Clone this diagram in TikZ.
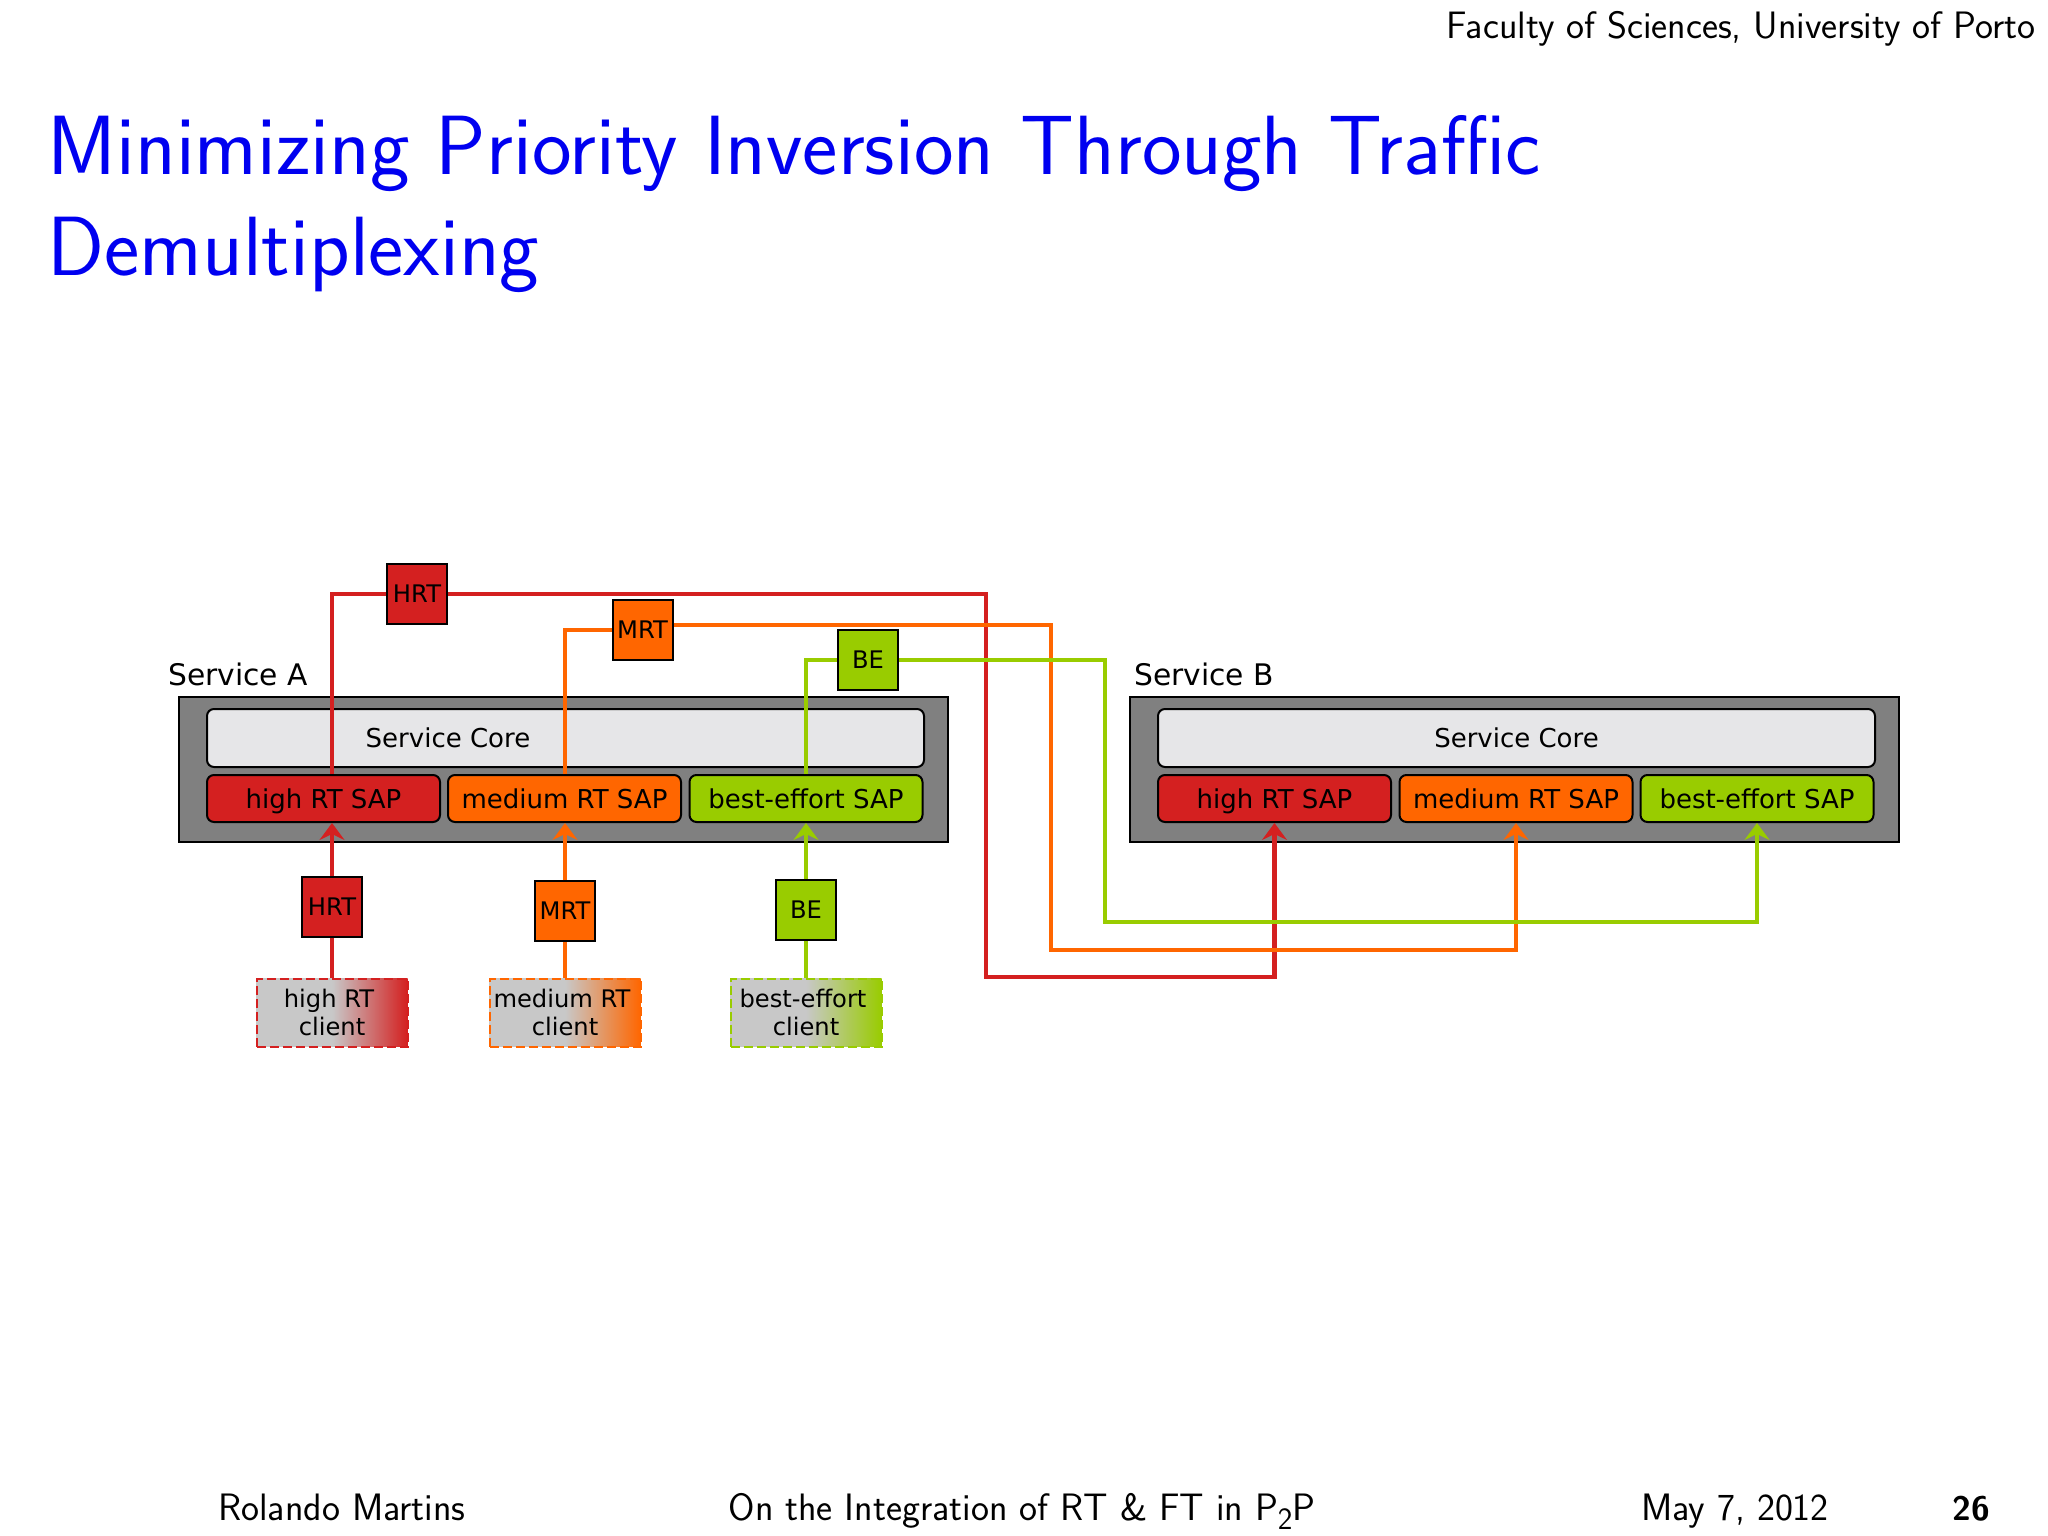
\documentclass[tikz,border=0pt]{standalone}
\usepackage{fontspec}
\usetikzlibrary{arrows.meta}
\renewcommand{\familydefault}{\sfdefault}
\newfontfamily\djvfont{DejaVu Sans}
\definecolor{cred}{HTML}{D42020}
\definecolor{corg}{HTML}{FF6600}
\definecolor{cgrn}{HTML}{99CC00}
\definecolor{cgry}{HTML}{808080}
\definecolor{ccor}{HTML}{E6E6E8}
\definecolor{ccli}{HTML}{C8C8C8}
\definecolor{cttl}{HTML}{0000F0}
\tikzset{
 x=1pt,y=-1pt,
 diag/.style={font=\djvfont\fontsize{24.2}{28}\selectfont,text=black},
 diagb/.style={font=\djvfont\fontsize{26}{30}\selectfont,text=black,text height=25.5pt,text depth=6pt},
 svcbox/.style={draw=black,line width=2pt,fill=cgry,minimum width=769pt,minimum height=145pt,anchor=center},
 corebox/.style={diagb,draw=black,line width=2pt,fill=ccor,rounded corners=7pt,minimum width=717pt,minimum height=58pt,inner sep=0pt},
 sapbox/.style={diagb,draw=black,line width=2pt,rounded corners=7pt,minimum width=233pt,minimum height=47pt,inner sep=0pt},
 tagbox/.style={diag,draw=black,line width=2pt,minimum width=60pt,minimum height=60pt,inner sep=0pt},
 clibox/.style={diag,dash pattern=on 9pt off 4pt,line width=2pt,minimum width=151pt,minimum height=68pt,inner sep=0pt,align=center},
 link/.style={line width=4.2pt},
 linka/.style={link,-{Stealth[length=17pt,width=25pt,inset=6pt]}},
 caption/.style={font=\fontsize{38.2}{42}\selectfont,anchor=base,inner sep=0pt},
 slidetitle/.style={font=\fontsize{84.1}{100}\selectfont,text=cttl,anchor=base west,inner sep=0pt},
 svclabel/.style={font=\djvfont\fontsize{29.7}{33}\selectfont,anchor=base west,inner sep=0pt},
}
\begin{document}
\begin{tikzpicture}
\useasboundingbox (0,0) rectangle (2048,1536);
\fill[white] (0,0) rectangle (2048,1536);
% slide texts
\node[font=\fontsize{38.2}{42}\selectfont,anchor=base east,inner sep=0pt] (hdr) at (2036,38.5) {Faculty of Sciences, University of Porto};
\node[slidetitle] (t1) at (47.5,174.5) {Minimizing Priority Inversion Through Traffic};
\node[slidetitle] (t2) at (47.5,275) {Demultiplexing};
\node[caption] (f1) at (342,1520) {Rolando Martins};
\node[caption] (f2) at (1022,1520) {On the Integration of RT \& FT in P\raisebox{-9pt}{\fontsize{31}{34}\selectfont 2}P};
\node[caption] (f3) at (1735,1520) {May 7, 2012};
\node[caption,font=\fontsize{34}{38}\bfseries\selectfont] (f4) at (1971,1520) {26};
% service A
\node[svcbox] (sa) at (563.5,769) {};
\node[svclabel] (sal) at (168,685) {Service A};
\node[corebox] (ca) at (565.5,738) {};
\node[diagb,inner sep=0pt] (cal) at (448,738) {Service Core};
\node[sapbox,fill=cred] (a1) at (323.5,798.5) {high RT SAP};
\node[sapbox,fill=corg] (a2) at (564.5,798.5) {medium RT SAP};
\node[sapbox,fill=cgrn] (a3) at (806,798.5) {best-effort SAP};
% service B
\node[svcbox] (sb) at (1514.5,769) {};
\node[svclabel] (sbl) at (1134,685) {Service B};
\node[corebox] (cb) at (1516.5,738) {Service Core};
\node[sapbox,fill=cred] (b1) at (1274.5,798.5) {high RT SAP};
\node[sapbox,fill=corg] (b2) at (1516,798.5) {medium RT SAP};
\node[sapbox,fill=cgrn] (b3) at (1757,798.5) {best-effort SAP};
% clients
\node[clibox,draw=cred,left color=ccli,right color=cred,middle color=ccli] (c1) at (332,1012.5) {\hspace*{-6pt}high RT\\client};
\node[clibox,draw=corg,left color=ccli,right color=corg,middle color=ccli] (c2) at (565,1012.5) {\hspace*{-6pt}medium RT\\client};
\node[clibox,draw=cgrn,left color=ccli,right color=cgrn,middle color=ccli] (c3) at (806,1012.5) {\hspace*{-6pt}best-effort\\client};
% tags
\node[tagbox,fill=cred] (h1) at (332,907) {HRT};
\node[tagbox,fill=corg] (m1) at (565,911) {MRT};
\node[tagbox,fill=cgrn] (e1) at (806,910) {BE};
\node[tagbox,fill=cred] (h2) at (417,594) {HRT};
\node[tagbox,fill=corg] (m2) at (642.5,630) {MRT};
\node[tagbox,fill=cgrn] (e2) at (868,660) {BE};
% connectors: client to tag to SAP
\draw[link,cred] (c1.north) -- (h1.south);
\draw[link,corg] (c2.north) -- (m1.south);
\draw[link,cgrn] (c3.north) -- (e1.south);
\draw[linka,cred] (h1.north) -- (h1.north |- a1.south);
\draw[linka,corg] (m1.north) -- (m1.north |- a2.south);
\draw[linka,cgrn] (e1.north) -- (e1.north |- a3.south);
% SAP A to tag
\draw[link,cred] (h1.north |- a1.north) |- (h2.west);
\draw[link,corg] (m1.north |- a2.north) |- (m2.west);
\draw[link,cgrn] (e1.north |- a3.north) |- (e2.west);
% tag to SAP B
\coordinate (hc) at (986,977);
\coordinate (mc) at (1051,950);
\coordinate (ec) at (1105,922);
\draw[linka,cred] (h2.east) -- (h2.east -| hc) -- (hc) -- (hc -| b1.south) -- (b1.south);
\draw[linka,corg] (m2.east |- 0,625) -- (mc |- 0,625) -- (mc) -- (mc -| b2.south) -- (b2.south);
\draw[linka,cgrn] (e2.east) -- (e2.east -| ec) -- (ec) -- (ec -| b3.south) -- (b3.south);
\end{tikzpicture}
\end{document}
